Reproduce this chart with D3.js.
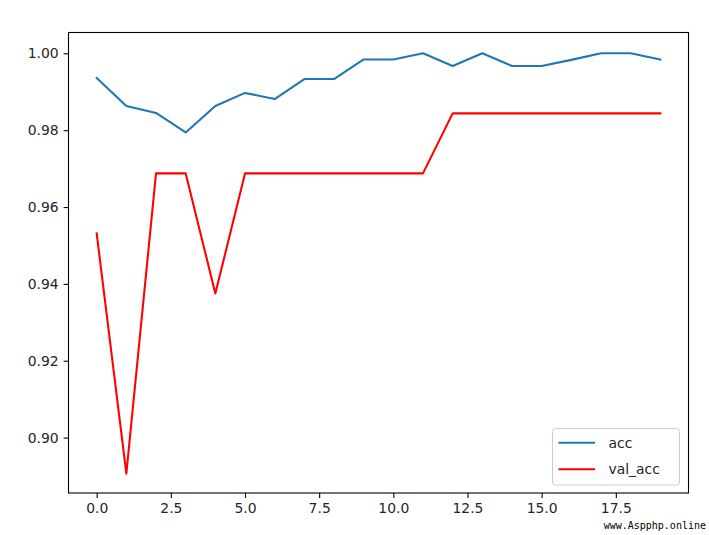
<!DOCTYPE html>
<html>
<head>
<meta charset="utf-8">
<script src="https://cdn.jsdelivr.net/npm/d3@7"></script>
<style>
  html, body { margin: 0; padding: 0; background: #fff; }
  svg { display: block; font-family: "DejaVu Sans", sans-serif; }
</style>
</head>
<body>
<svg id="chart" width="709" height="535"></svg>
<script>
const epochs = d3.range(0, 20);
const acc = [0.9936, 0.9863, 0.9845, 0.9794, 0.9863, 0.9897, 0.9881, 0.9933, 0.9933, 0.9984,
             0.9984, 1.0000, 0.9967, 1.0000, 0.9967, 0.9967, 0.9983, 1.0000, 1.0000, 0.9984];
const valAcc = [0.953125, 0.890625, 0.96875, 0.96875, 0.9375, 0.96875, 0.96875, 0.96875, 0.96875, 0.96875,
                0.96875, 0.96875, 0.984375, 0.984375, 0.984375, 0.984375, 0.984375, 0.984375, 0.984375, 0.984375];
const xTicks = [0, 2.5, 5, 7.5, 10, 12.5, 15, 17.5];
const yTicks = [0.90, 0.92, 0.94, 0.96, 0.98, 1.00];
const seriesNames = ["acc", "val_acc"];
const seriesColors = ["#1f77b4", "#ff0000"];

const svg = d3.select("#chart");
const mLeft = 68.5, mRight = 688.5, mTop = 32.5, mBottom = 493;

const x = d3.scaleLinear().domain([-0.95, 19.95]).range([mLeft, mRight]);
const y = d3.scaleLinear().domain([0.88558, 1.00542]).range([mBottom, mTop]);

const fontSize = 13.9;
const textColor = "#262626";

// lines
const line = d3.line().x((d, i) => x(epochs[i])).y(d => y(d));
[acc, valAcc].forEach((s, k) => {
  svg.append("path")
    .datum(s)
    .attr("d", line)
    .attr("fill", "none")
    .attr("stroke", seriesColors[k])
    .attr("stroke-width", 2.08)
    .attr("stroke-linejoin", "round")
    .attr("stroke-linecap", "square");
});

// axes
const xAxis = d3.axisBottom(x).tickValues(xTicks).tickFormat(d3.format(".1f")).tickSize(4.9).tickPadding(4.9);
const yAxis = d3.axisLeft(y).tickValues(yTicks).tickFormat(d3.format(".2f")).tickSize(4.9).tickPadding(4.9);

const gx = svg.append("g").attr("transform", `translate(0,${mBottom})`).call(xAxis);
const gy = svg.append("g").attr("transform", `translate(${mLeft},0)`).call(yAxis);
[gx, gy].forEach(g => {
  g.select(".domain").remove();
  g.selectAll(".tick line").attr("stroke", "#000").attr("stroke-width", 1.1);
  g.selectAll(".tick text").attr("fill", textColor).attr("font-size", fontSize)
    .attr("font-family", "DejaVu Sans, sans-serif");
});

// frame
svg.append("rect")
  .attr("x", mLeft).attr("y", mTop)
  .attr("width", mRight - mLeft).attr("height", mBottom - mTop)
  .attr("fill", "none").attr("stroke", "#000").attr("stroke-width", 1.1);

// legend
const lg = svg.append("g");
lg.append("rect")
  .attr("x", 552.5).attr("y", 428.5).attr("width", 127).attr("height", 56.5)
  .attr("rx", 3).attr("ry", 3)
  .attr("fill", "#fff").attr("fill-opacity", 0.8)
  .attr("stroke", "#cccccc").attr("stroke-width", 1);
seriesNames.forEach((name, k) => {
  const ly = 442.7 + k * 26.6;
  lg.append("line")
    .attr("x1", 558.5).attr("x2", 595).attr("y1", ly).attr("y2", ly)
    .attr("stroke", seriesColors[k]).attr("stroke-width", 2.08);
  lg.append("text")
    .attr("x", 608.5).attr("y", ly).attr("dy", "0.35em")
    .attr("font-size", fontSize).attr("fill", textColor)
    .text(name);
});

// watermark
svg.append("text")
  .attr("x", 706).attr("y", 529)
  .attr("text-anchor", "end")
  .attr("font-size", 10).attr("font-family", "DejaVu Sans Mono, monospace")
  .attr("fill", "#000")
  .text("www.Aspphp.online");
</script>
</body>
</html>
